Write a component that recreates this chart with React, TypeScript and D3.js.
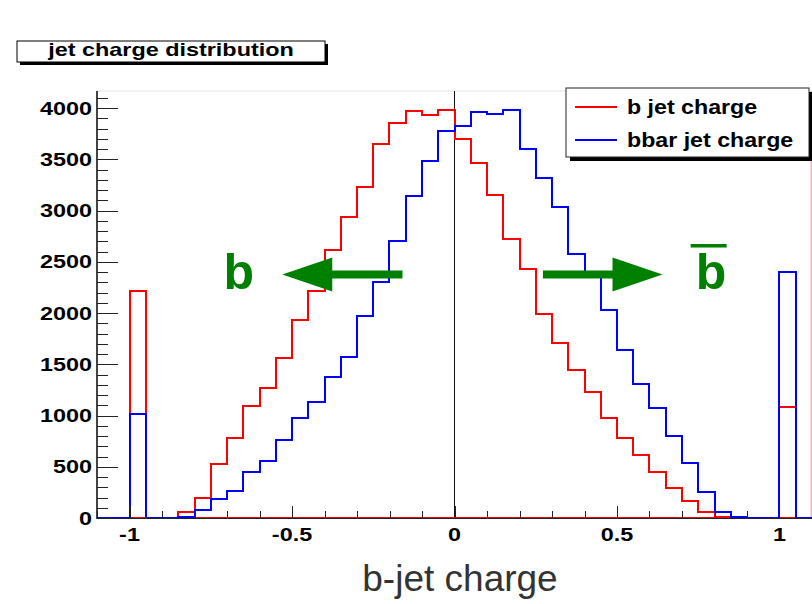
import React from "react";
import * as d3 from "d3";

// Histogram binning: 44 bins of width 0.05 covering [-1.1, 1.1]
const binLow = -1.1;
const binWidth = 0.05;

// b jet charge counts per bin
const bJetCounts = [
  0, 0, 2215, 0, 0, 55, 200, 527, 777, 1093, 1265, 1558, 1932, 2215, 2615, 2940,
  3233, 3649, 3857, 3974, 3932, 3980, 3694, 3460, 3151, 2719, 2426, 1987, 1704,
  1444, 1226, 979, 783, 615, 452, 290, 166, 62, 13, 0, 0, 0, 1086, 0,
];

// bbar jet charge counts per bin
const bbarJetCounts = [
  0, 0, 1012, 0, 0, 13, 78, 182, 267, 446, 556, 761, 973, 1129, 1379, 1568,
  1971, 2299, 2706, 3141, 3486, 3776, 3824, 3958, 3941, 3980, 3597, 3314, 3037,
  2572, 2370, 2029, 1639, 1307, 1070, 800, 533, 251, 55, 7, 0, 0, 2403, 0,
];

const xMajorTicks = [-1, -0.5, 0, 0.5, 1];
const xTickLabels = ["-1", "-0.5", "0", "0.5", "1"];
const yMajorTicks = [0, 500, 1000, 1500, 2000, 2500, 3000, 3500, 4000];
const yTickLabels = ["0", "500", "1000", "1500", "2000", "2500", "3000", "3500", "4000"];

const legendLabels = ["b jet charge", "bbar jet charge"];
const seriesColors = ["#ff0000", "#0000ff"];
const titleText = "jet charge distribution";
const xAxisTitle = "b-jet charge";

// Annotation arrows (data coordinates): tail -> tip
const arrowB = { tail: -0.16, tip: -0.53, y: 2376 };
const arrowBbar = { tail: 0.272, tip: 0.64, y: 2376 };
const labelB = { x: -0.711, y: 2234 };
const labelBbar = { x: 0.742, y: 2234 };

const W = 812;
const H = 604;
const frame = { left: 97, right: 812, top: 91, bottom: 518 };
const green = "#008000";

const x = d3.scaleLinear().domain([-1.1, 1.1]).range([frame.left, frame.right]);
const y = d3.scaleLinear().domain([0, 4166]).range([frame.bottom, frame.top]);

// Step outline of a histogram, snapped to whole pixels so overlapping edges stay crisp
function stepPath(counts: number[]): string {
  const pts: [number, number][] = counts.map((c, i) => [binLow + i * binWidth, c]);
  pts.push([binLow + counts.length * binWidth, counts[counts.length - 1]]);
  const line = d3
    .line<[number, number]>()
    .x((d) => Math.round(x(d[0])))
    .y((d) => Math.round(y(d[1])))
    .curve(d3.curveStepAfter);
  return line(pts) || "";
}

function Stretched(props: {
  x: number;
  y: number;
  sx: number;
  size: number;
  anchor?: "start" | "middle" | "end";
  weight?: string;
  fill?: string;
  children: string;
}) {
  return (
    <text
      transform={`translate(${props.x},${props.y}) scale(${props.sx},1)`}
      textAnchor={props.anchor || "start"}
      fontFamily="'Liberation Sans', Arial, Helvetica, sans-serif"
      fontWeight={props.weight || "bold"}
      fontSize={props.size}
      fill={props.fill || "#000"}
    >
      {props.children}
    </text>
  );
}

function Arrow({ tail, tip, yv }: { tail: number; tip: number; yv: number }) {
  const x0 = x(tail);
  const x1 = x(tip);
  const yc = y(yv);
  const dir = Math.sign(x1 - x0);
  const headLen = 50;
  const headHalf = 17;
  const shaftHalf = 4;
  const xb = x1 - dir * headLen;
  const d = [
    `M${x0},${yc - shaftHalf}`,
    `L${xb},${yc - shaftHalf}`,
    `L${xb},${yc - headHalf}`,
    `L${x1},${yc}`,
    `L${xb},${yc + headHalf}`,
    `L${xb},${yc + shaftHalf}`,
    `L${x0},${yc + shaftHalf}`,
    "Z",
  ].join("");
  return <path d={d} fill={green} />;
}

export default function App() {
  const xMinor = d3.range(-11, 12).map((k) => k / 10);
  const yMinor = d3.range(0, 4200, 100);

  return (
    <svg
      width={W}
      height={H}
      viewBox={`0 0 ${W} ${H}`}
      style={{ position: "absolute", left: 0, top: 0, background: "#fff" }}
    >
      <rect x={0} y={0} width={W} height={H} fill="#fff" />

      {/* title box */}
      <rect x={20} y={44} width={308} height={21} fill="#000" />
      <rect x={17} y={41} width={308} height={21} fill="#fff" stroke="#000" strokeWidth={1} />
      <Stretched x={171} y={56} sx={1.3} size={18} anchor="middle">
        {titleText}
      </Stretched>

      {/* frame top and right edges */}
      <line x1={frame.left} x2={frame.right} y1={frame.top} y2={frame.top} stroke="#e4e4e4" strokeWidth={1} />
      <line x1={x(1.1) - 0.8} x2={x(1.1) - 0.8} y1={frame.top} y2={frame.bottom} stroke="#f08a8a" strokeWidth={1} />

      {/* vertical line at zero charge */}
      <line x1={x(0)} x2={x(0)} y1={frame.top} y2={frame.bottom} stroke="#111" strokeWidth={1} />

      <defs>
        <clipPath id="plotClip">
          <rect x={frame.left} y={frame.top} width={frame.right - frame.left} height={frame.bottom - frame.top + 2} />
        </clipPath>
      </defs>

      {/* histograms */}
      <g clipPath="url(#plotClip)" fill="none" strokeWidth={2}>
        <line
          x1={frame.left}
          x2={frame.right}
          y1={Math.round(y(0))}
          y2={Math.round(y(0))}
          stroke={seriesColors[0]}
        />
        <path d={stepPath(bJetCounts)} stroke={seriesColors[0]} />
        <path d={stepPath(bbarJetCounts)} stroke={seriesColors[1]} />
      </g>

      {/* axes */}
      <line x1={frame.left} x2={frame.left} y1={frame.top} y2={frame.bottom + 1} stroke="#444" strokeWidth={2} />
      <line x1={frame.left} x2={frame.right} y1={frame.bottom + 0.5} y2={frame.bottom + 0.5} stroke="#222" strokeWidth={1} />

      {/* y ticks */}
      {yMinor.map((v) => (
        <line
          key={`ym${v}`}
          x1={frame.left}
          x2={frame.left + (v % 500 === 0 ? 21 : 11)}
          y1={Math.round(y(v)) + 0.5}
          y2={Math.round(y(v)) + 0.5}
          stroke="#222"
          strokeWidth={1}
        />
      ))}
      {yMajorTicks.map((v, i) => (
        <Stretched key={`yl${v}`} x={92} y={y(v) + 6.5} sx={1.3} size={18} anchor="end">
          {yTickLabels[i]}
        </Stretched>
      ))}

      {/* x ticks */}
      {xMinor.map((v) => {
        const major = Math.abs(v * 2 - Math.round(v * 2)) < 1e-6;
        const px = Math.round(x(v)) + 0.5;
        return (
          <line
            key={`xm${v}`}
            x1={px}
            x2={px}
            y1={frame.bottom}
            y2={frame.bottom - (major ? 12 : 7)}
            stroke="#222"
            strokeWidth={1}
          />
        );
      })}
      {xMajorTicks.map((v, i) => (
        <Stretched key={`xl${v}`} x={x(v)} y={541} sx={1.3} size={18} anchor="middle">
          {xTickLabels[i]}
        </Stretched>
      ))}

      {/* axis title */}
      <text
        x={460}
        y={591}
        textAnchor="middle"
        fontFamily="'Liberation Sans', Arial, Helvetica, sans-serif"
        fontSize={37}
        fill="#333"
      >
        {xAxisTitle}
      </text>

      {/* annotations */}
      <Arrow tail={arrowB.tail} tip={arrowB.tip} yv={arrowB.y} />
      <Arrow tail={arrowBbar.tail} tip={arrowBbar.tip} yv={arrowBbar.y} />
      <Stretched x={x(labelB.x)} y={y(labelB.y)} sx={1} size={50} fill={green}>
        b
      </Stretched>
      <Stretched x={x(labelBbar.x)} y={y(labelBbar.y)} sx={1} size={50} fill={green}>
        b
      </Stretched>
      <rect x={x(labelBbar.x) - 5} y={y(labelBbar.y) - 45} width={36} height={3.5} fill={green} />

      {/* legend */}
      <rect x={570} y={92} width={243} height={69} fill="#000" />
      <rect x={566} y={88} width={243} height={69} fill="#fff" stroke="#222" strokeWidth={1} />
      {legendLabels.map((lab, i) => {
        const cy = 107 + i * 33;
        return (
          <g key={lab}>
            <line x1={575} x2={617} y1={cy} y2={cy} stroke={seriesColors[i]} strokeWidth={2} />
            <Stretched x={627} y={cy + 7} sx={1.16} size={20}>
              {lab}
            </Stretched>
          </g>
        );
      })}
    </svg>
  );
}
